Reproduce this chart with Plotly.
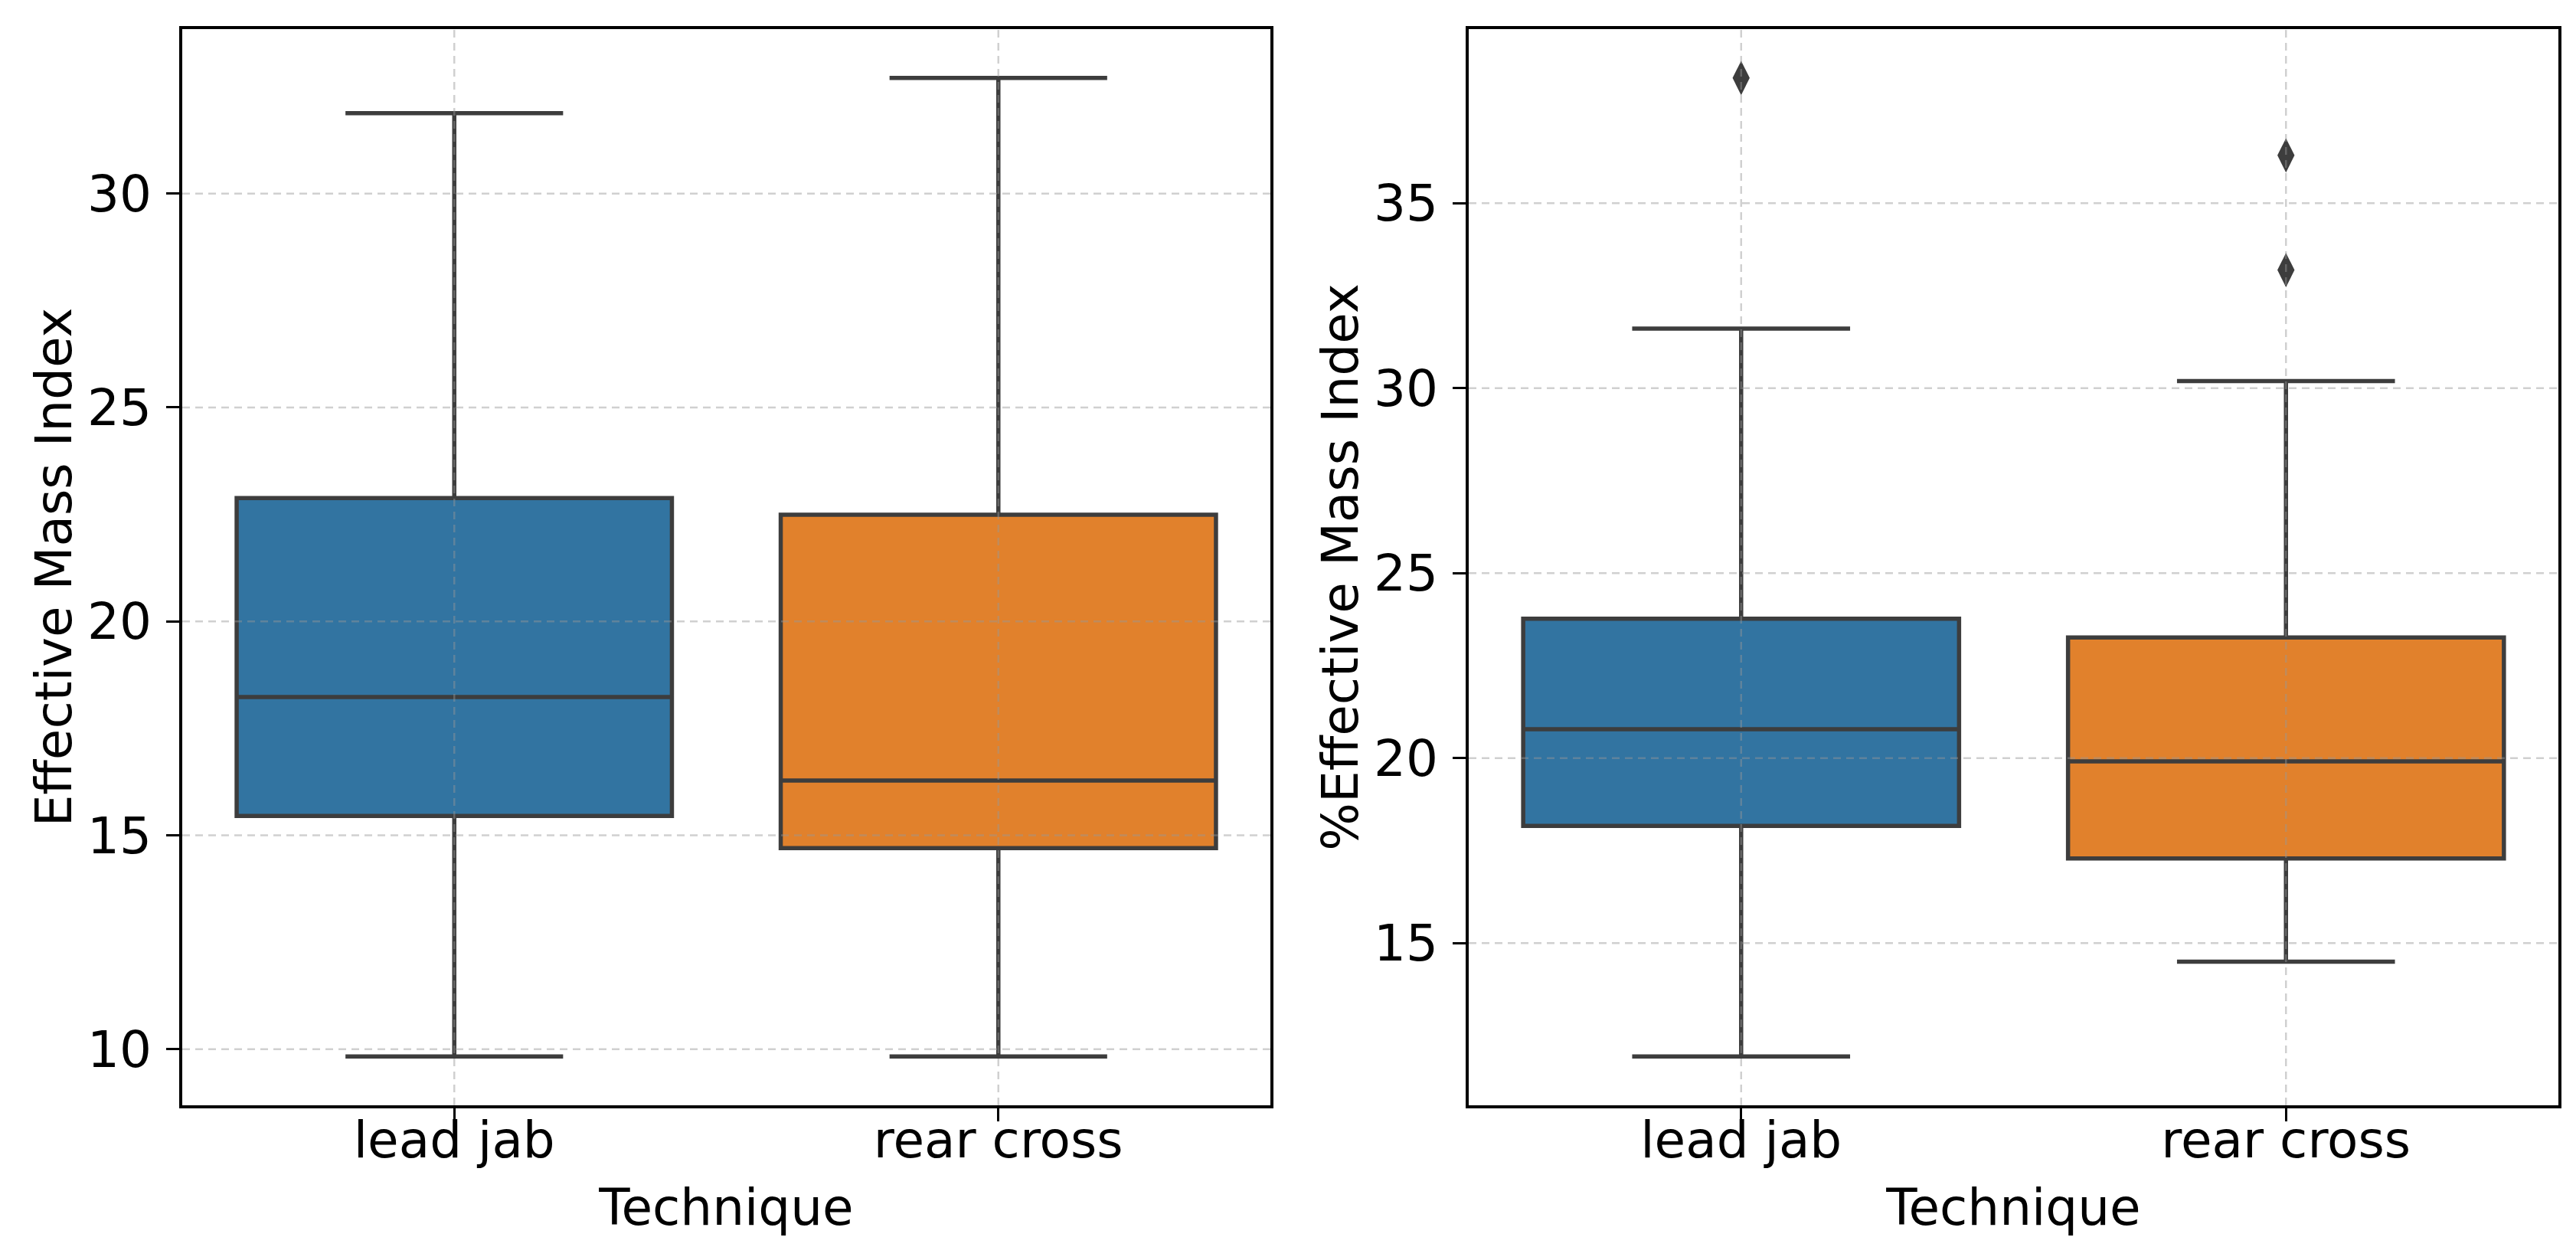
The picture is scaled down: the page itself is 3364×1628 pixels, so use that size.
import plotly.graph_objects as go

# ---- data ----
techniques = ["lead jab", "rear cross"]
colors = ["#3274a1", "#e1812c"]

# Left panel: Effective Mass Index
emi_lower = [9.83, 9.83]
emi_q1 = [15.45, 14.70]
emi_median = [18.23, 16.28]
emi_q3 = [22.88, 22.49]
emi_upper = [31.88, 32.70]
emi_outliers = [[], []]

# Right panel: %Effective Mass Index
pemi_lower = [11.94, 14.50]
pemi_q1 = [18.17, 17.29]
pemi_median = [20.78, 19.91]
pemi_q3 = [23.77, 23.26]
pemi_upper = [31.61, 30.19]
pemi_outliers = [[38.38], [36.29, 33.19]]

left_ticks = [10, 15, 20, 25, 30]
right_ticks = [15, 20, 25, 30, 35]

FONT = "DejaVu Sans"
FS = 66
EDGE = "#3d3d3d"
GRID = "rgba(150,150,150,0.45)"

fig = go.Figure()


def add_panel(xa, ya, lower, q1, med, q3, upper, outliers):
    for i, t in enumerate(techniques):
        fig.add_trace(go.Box(
            x=[t], q1=[q1[i]], median=[med[i]], q3=[q3[i]],
            lowerfence=[lower[i]], upperfence=[upper[i]],
            width=0.8, whiskerwidth=0.5,
            fillcolor=colors[i], line=dict(color=EDGE, width=5.5),
            boxpoints=False, showlegend=False, hoverinfo="skip",
            xaxis=xa, yaxis=ya,
        ))
        if outliers[i]:
            fig.add_trace(go.Scatter(
                x=[t] * len(outliers[i]), y=outliers[i], mode="markers",
                marker=dict(symbol="diamond-tall", size=32, color=EDGE,
                            line=dict(width=0)),
                showlegend=False, hoverinfo="skip", xaxis=xa, yaxis=ya,
            ))


add_panel("x", "y", emi_lower, emi_q1, emi_median, emi_q3, emi_upper, emi_outliers)
add_panel("x2", "y2", pemi_lower, pemi_q1, pemi_median, pemi_q3, pemi_upper, pemi_outliers)


def yrange(lower, upper, outliers):
    vals = list(lower) + list(upper) + [v for o in outliers for v in o]
    lo, hi = min(vals), max(vals)
    pad = 0.05 * (hi - lo)
    return [lo - pad, hi + pad]


# grid lines drawn above the boxes (as in the reference)
def add_grid(xref, yref, ticks):
    for t in techniques:
        fig.add_shape(type="line", xref=xref, yref=yref + " domain",
                      x0=t, x1=t, y0=0, y1=1, layer="above",
                      line=dict(color=GRID, width=2.5, dash="10px,7px"))
    for v in ticks:
        fig.add_shape(type="line", xref=xref + " domain", yref=yref,
                      x0=0, x1=1, y0=v, y1=v, layer="above",
                      line=dict(color=GRID, width=2.5, dash="10px,7px"))


add_grid("x", "y", left_ticks)
add_grid("x2", "y2", right_ticks)

axis_common = dict(
    showline=True, mirror=True, linecolor="black", linewidth=3.5,
    ticks="outside", ticklen=17, tickwidth=3, tickcolor="black",
    showgrid=False, zeroline=False,
    tickfont=dict(family=FONT, size=FS, color="black"),
)

xcommon = dict(axis_common, type="category", categoryorder="array",
               categoryarray=techniques, range=[-0.5, 1.5],
               ticklabelstandoff=-32,
               title=dict(text="Technique", font=dict(family=FONT, size=FS, color="black"),
                          standoff=28))

ycommon = dict(axis_common, ticklabelstandoff=6)

fig.update_layout(
    width=3364, height=1628,
    margin=dict(l=230, r=31, t=30, b=193),
    paper_bgcolor="white", plot_bgcolor="white",
    showlegend=False, boxmode="overlay",
    font=dict(family=FONT, size=FS, color="black"),
    xaxis=dict(xcommon, domain=[0, 1421 / 3103], anchor="y"),
    xaxis2=dict(xcommon, domain=[1680 / 3103, 1], anchor="y2"),
    yaxis=dict(ycommon, anchor="x", tickvals=left_ticks,
               range=yrange(emi_lower, emi_upper, emi_outliers),
               title=dict(text="Effective Mass Index",
                          font=dict(family=FONT, size=FS, color="black"), standoff=0)),
    yaxis2=dict(ycommon, anchor="x2", tickvals=right_ticks,
                range=yrange(pemi_lower, pemi_upper, pemi_outliers),
                title=dict(text="%Effective Mass Index",
                           font=dict(family=FONT, size=FS, color="black"), standoff=0)),
)

fig.write_html("out.html")
